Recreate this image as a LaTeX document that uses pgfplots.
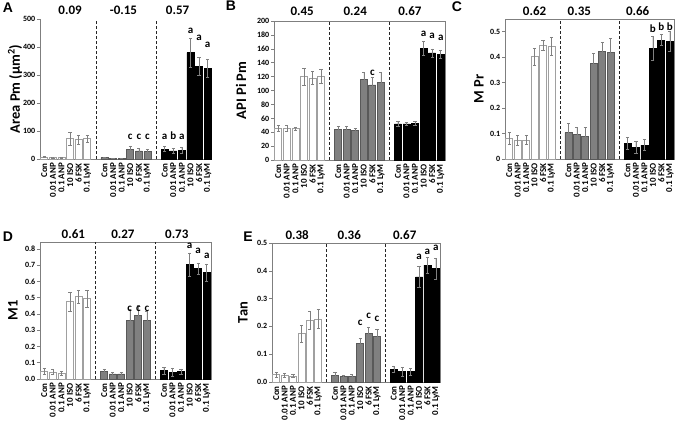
\documentclass[border=0pt]{standalone}
\usepackage{pgfplots}
\pgfplotsset{compat=1.18}
\usepackage{fontspec}
\setmainfont{Carlito}
\newfontfamily\arial{Liberation Sans}
\definecolor{errc}{HTML}{808080}
\definecolor{wedge}{HTML}{A0A0A0}
\definecolor{gfill}{HTML}{808080}
\definecolor{gedge}{HTML}{595959}
\definecolor{axc}{HTML}{7F7F7F}
\newcommand\lett{\bfseries\fontsize{11}{11}\selectfont}
\newcommand\ttl{\bfseries\fontsize{13}{13}\selectfont}
\newcommand\ylab{\bfseries\fontsize{14.5}{14.5}\selectfont}
\newcommand\plet{\arial\bfseries\fontsize{14}{14}\selectfont}
\newcommand\letter[3]{\node[font=\lett, anchor=base, inner sep=0pt] at (axis cs:#1,#2) {#3};}
\tikzset{dsh/.style={dash pattern=on 3pt off 2pt, line width=0.7pt, black!85}}
\pgfplotsset{
  panel/.style={
    scale only axis, clip=false,
    xmin=0.5, xmax=20.5, ymin=0,
    xtick={1,2,3,4,5,6,8,9,10,11,12,13,15,16,17,18,19,20},
    xticklabels={Con,0.01 ANP,0.1 ANP,10 ISO,6 FSK,0.1 LyM,Con,0.01 ANP,0.1 ANP,10 ISO,6 FSK,0.1 LyM,Con,0.01 ANP,0.1 ANP,10 ISO,6 FSK,0.1 LyM},
    xticklabel style={rotate=90, anchor=east, font=\bfseries\fontsize{9}{9}\selectfont, inner sep=1pt},
    yticklabel style={font=\bfseries\fontsize{8}{8}\selectfont, inner sep=1.5pt},
    x tick style={draw=none},
    y tick style={axc, line width=0.5pt},
    tick align=outside, major tick length=3pt,
    xtick pos=bottom, ytick pos=left,
    axis line style={axc, line width=0.6pt},
    /pgf/number format/assume math mode=true,
  },
  wbar/.style={ybar, bar width=7pt, fill=white, draw=wedge, line width=0.7pt},
  gbar/.style={ybar, bar width=7pt, fill=gfill, draw=gedge, line width=0.7pt},
  kbar/.style={ybar, bar width=7pt, fill=black, draw=black, line width=0.7pt},
  eb/.style={error bars/.cd, y dir=both, y explicit,
    error bar style={line width=0.5pt, draw=errc},
    error mark options={rotate=90, mark size=1.6pt, line width=0.5pt, draw=errc}},
}
\begin{document}
\begin{tikzpicture}
\useasboundingbox (0,0) rectangle (681pt,424pt);
% ---------- A ----------
\begin{axis}[panel, at={(40pt,265pt)}, anchor=south west, width=172pt, height=140pt,
  ymax=500, ytick={0,100,200,300,400,500}, yticklabels={0,100,200,300,400,500},
  axis x line*=bottom, axis y line*=left]
\addplot[wbar, eb] table[row sep=\\, y error=e] {x y e\\ 1 7 2\\ 2 6 2\\ 3 5 1.5\\ 4 73 24\\ 5 69 15\\ 6 73 12\\};
\addplot[gbar, eb] table[row sep=\\, y error=e] {x y e\\ 8 5 1\\ 9 3 0.5\\ 10 3 0.5\\ 11 35 12\\ 12 29 8\\ 13 26 8\\};
\addplot[kbar, eb] table[row sep=\\, y error=e] {x y e\\ 15 35 9\\ 16 29 10\\ 17 31 10\\ 18 380 52\\ 19 331 32\\ 20 324 33\\};
\draw[dsh] (axis cs:7,0) -- (axis cs:7,500);
\draw[dsh] (axis cs:14,0) -- (axis cs:14,500);
\node[font=\ttl] at ([yshift=9pt]axis cs:4.0,500) {0.09};
\node[font=\ttl] at ([yshift=9pt]axis cs:10.2,500) {-0.15};
\node[font=\ttl] at ([yshift=9pt]axis cs:16.5,500) {0.57};
\node[font=\ylab, rotate=90] at ([xshift=-25pt]rel axis cs:0,0.5) {Area Pm (µm\textsuperscript{2})};
\letter{11}{68}{c}\letter{12}{68}{c}\letter{13}{68}{c}
\letter{15}{68}{a}\letter{16}{68}{b}\letter{17}{68}{a}
\letter{18}{449}{a}\letter{19}{425}{a}\letter{20}{399}{a}
\end{axis}
% ---------- B ----------
\begin{axis}[panel, at={(274pt,264pt)}, anchor=south west, width=171pt, height=139pt,
  ymax=200, ytick={0,20,...,200}, yticklabels={0,20,40,60,80,100,120,140,160,180,200}]
\addplot[wbar, eb] table[row sep=\\, y error=e] {x y e\\ 1 46 4\\ 2 46 4\\ 3 45 2\\ 4 120 12\\ 5 118 9\\ 6 121 10\\};
\addplot[gbar, eb] table[row sep=\\, y error=e] {x y e\\ 8 44 4\\ 9 44 4\\ 10 43 3\\ 11 116 10\\ 12 108 11\\ 13 112 14\\};
\addplot[kbar, eb] table[row sep=\\, y error=e] {x y e\\ 15 52 4\\ 16 52 2\\ 17 53 3\\ 18 161 10\\ 19 154 6\\ 20 152 6\\};
\draw[dsh] (axis cs:7,0) -- (axis cs:7,200);
\draw[dsh] (axis cs:14,0) -- (axis cs:14,200);
\node[font=\ttl] at ([yshift=9.5pt]axis cs:3.8,200) {0.45};
\node[font=\ttl] at ([yshift=9.5pt]axis cs:10.0,200) {0.24};
\node[font=\ttl] at ([yshift=9.5pt]axis cs:16.4,200) {0.67};
\node[font=\ylab, rotate=90] at ([xshift=-33pt]rel axis cs:0,0.5) {API Pi Pm};
\letter{12}{122}{c}
\letter{18}{178}{a}\letter{19}{175}{a}\letter{20}{172}{a}
\end{axis}
% ---------- C ----------
\begin{axis}[panel, at={(505pt,265pt)}, anchor=south west, width=169pt, height=140pt,
  ymax=0.55, ytick={0,0.1,0.2,0.3,0.4,0.5}, yticklabels={0,0.1,0.2,0.3,0.4,0.5}]
\addplot[wbar, eb] table[row sep=\\, y error=e] {x y e\\ 1 0.083 0.024\\ 2 0.074 0.020\\ 3 0.074 0.018\\ 4 0.402 0.032\\ 5 0.448 0.020\\ 6 0.443 0.035\\};
\addplot[gbar, eb] table[row sep=\\, y error=e] {x y e\\ 8 0.104 0.037\\ 9 0.095 0.030\\ 10 0.090 0.035\\ 11 0.376 0.040\\ 12 0.422 0.035\\ 13 0.418 0.055\\};
\addplot[kbar, eb] table[row sep=\\, y error=e] {x y e\\ 15 0.062 0.022\\ 16 0.046 0.022\\ 17 0.055 0.022\\ 18 0.434 0.047\\ 19 0.467 0.022\\ 20 0.462 0.040\\};
\draw[dsh] (axis cs:7,0) -- (axis cs:7,0.55);
\draw[dsh] (axis cs:14,0) -- (axis cs:14,0.55);
\node[font=\ttl] at ([yshift=7.5pt]axis cs:4.0,0.55) {0.62};
\node[font=\ttl] at ([yshift=7.5pt]axis cs:9.3,0.55) {0.35};
\node[font=\ttl] at ([yshift=7.5pt]axis cs:16.2,0.55) {0.66};
\node[font=\ylab, rotate=90] at ([xshift=-26pt]rel axis cs:0,0.5) {M Pr};
\letter{18}{0.496}{b}\letter{19}{0.506}{b}\letter{20}{0.506}{b}
\end{axis}
% ---------- D ----------
\begin{axis}[panel, at={(40pt,45pt)}, anchor=south west, width=171pt, height=137pt,
  ymax=0.843, ytick={0,0.1,...,0.8}, yticklabels={0.0,0.1,0.2,0.3,0.4,0.5,0.6,0.7,0.8}]
\addplot[wbar, eb] table[row sep=\\, y error=e] {x y e\\ 1 0.047 0.018\\ 2 0.043 0.014\\ 3 0.037 0.013\\ 4 0.476 0.060\\ 5 0.507 0.040\\ 6 0.494 0.050\\};
\addplot[gbar, eb] table[row sep=\\, y error=e] {x y e\\ 8 0.045 0.018\\ 9 0.031 0.010\\ 10 0.031 0.010\\ 11 0.361 0.067\\ 12 0.392 0.060\\ 13 0.361 0.055\\};
\addplot[kbar, eb] table[row sep=\\, y error=e] {x y e\\ 15 0.051 0.020\\ 16 0.043 0.025\\ 17 0.045 0.017\\ 18 0.704 0.072\\ 19 0.679 0.035\\ 20 0.654 0.055\\};
\draw[dsh] (axis cs:7,0) -- (axis cs:7,0.843);
\draw[dsh] (axis cs:14,0) -- (axis cs:14,0.843);
\node[font=\ttl] at ([yshift=8pt]axis cs:4.4,0.843) {0.61};
\node[font=\ttl] at ([yshift=8pt]axis cs:10.2,0.843) {0.27};
\node[font=\ttl] at ([yshift=8pt]axis cs:16.5,0.843) {0.73};
\node[font=\ylab, rotate=90] at ([xshift=-27pt]rel axis cs:0,0.5) {M1};
\letter{11}{0.416}{c}\letter{12}{0.416}{c}\letter{13}{0.416}{c}
\letter{18}{0.80}{a}\letter{19}{0.775}{a}\letter{20}{0.74}{a}
\end{axis}
% ---------- E ----------
\begin{axis}[panel, at={(272pt,42pt)}, anchor=south west, width=168pt, height=139pt,
  ymax=0.5, ytick={0,0.1,...,0.5}, yticklabels={0.0,0.1,0.2,0.3,0.4,0.5}]
\addplot[wbar, eb] table[row sep=\\, y error=e] {x y e\\ 1 0.026 0.010\\ 2 0.024 0.008\\ 3 0.022 0.006\\ 4 0.174 0.030\\ 5 0.222 0.032\\ 6 0.227 0.034\\};
\addplot[gbar, eb] table[row sep=\\, y error=e] {x y e\\ 8 0.024 0.010\\ 9 0.019 0.006\\ 10 0.019 0.008\\ 11 0.140 0.017\\ 12 0.176 0.022\\ 13 0.164 0.026\\};
\addplot[kbar, eb] table[row sep=\\, y error=e] {x y e\\ 15 0.046 0.012\\ 16 0.037 0.016\\ 17 0.037 0.012\\ 18 0.378 0.038\\ 19 0.420 0.028\\ 20 0.408 0.038\\};
\draw[dsh] (axis cs:7,0) -- (axis cs:7,0.5);
\draw[dsh] (axis cs:14,0) -- (axis cs:14,0.5);
\node[font=\ttl] at ([yshift=8pt]axis cs:3.5,0.5) {0.38};
\node[font=\ttl] at ([yshift=8pt]axis cs:9.7,0.5) {0.36};
\node[font=\ttl] at ([yshift=8pt]axis cs:16.3,0.5) {0.67};
\node[font=\ylab, rotate=90] at ([xshift=-29pt]rel axis cs:0,0.5) {Tan};
\letter{11}{0.205}{c}\letter{12}{0.229}{c}\letter{13}{0.219}{c}
\letter{18}{0.439}{a}\letter{19}{0.460}{a}\letter{20}{0.472}{a}
\end{axis}
% panel letters
\node[font=\plet] at (8pt,416pt) {A};
\node[font=\plet] at (231pt,418pt) {B};
\node[font=\plet] at (457pt,417pt) {C};
\node[font=\plet] at (8pt,187pt) {D};
\node[font=\plet] at (248pt,187pt) {E};
\end{tikzpicture}
\end{document}
